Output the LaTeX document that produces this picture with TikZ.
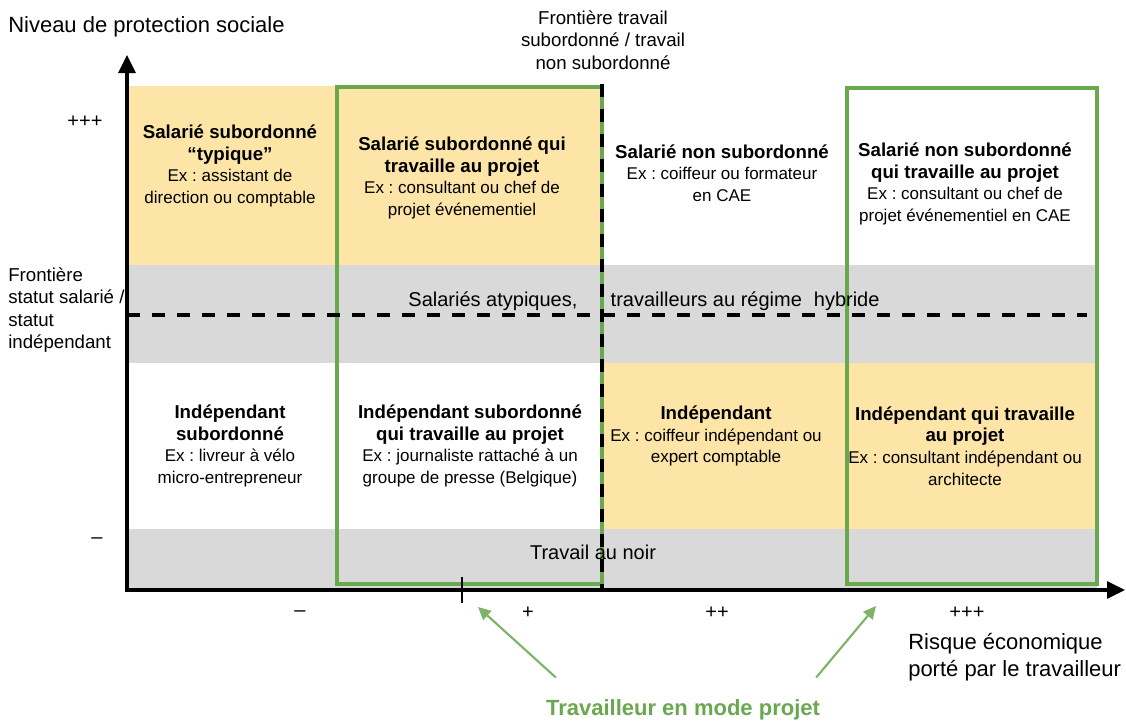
\documentclass[tikz,border=0pt]{standalone}
\usepackage{fontspec}
\setmainfont{Liberation Sans}
\usetikzlibrary{arrows.meta, positioning}
\usepackage{xcolor}
\definecolor{cellyellow}{HTML}{FCE5A6}
\definecolor{bandgray}{HTML}{D9D9D9}
\definecolor{projgreen}{HTML}{6AA84F}
\definecolor{arrowgreen}{HTML}{7DB466}
\newcommand{\ttl}[1]{{\fontsize{14}{17.7}\selectfont\bfseries #1}}
\frenchspacing

\begin{document}
\begin{tikzpicture}[x=0.75pt, y=-0.75pt,
  every node/.style={inner sep=0pt, align=center, font=\fontsize{12.75}{16.3}\selectfont},
  axislabel/.style={align=left, font=\fontsize{16.5}{20.2}\selectfont},
  frontier/.style={font=\fontsize{14}{16.8}\selectfont},
  bandtext/.style={font=\fontsize{15}{18}\selectfont},
  scalemark/.style={font=\fontsize{15}{18}\selectfont},
  projbox/.style={draw=projgreen, line width=2.6pt},
  frontierline/.style={line width=2.9pt, dash pattern=on 9.75pt off 9pt},
  axis/.style={line width=2.4pt, {Triangle[length=13.5pt, width=12.75pt]}-{Triangle[length=13.5pt, width=12.75pt]}},
  pointer/.style={draw=arrowgreen, line width=1.6pt, -{Triangle[length=9.5pt, width=9pt]}}]

  \useasboundingbox (0,0) rectangle (1126,725);

  % Coloured cells and grey bands
  \fill[cellyellow] (127,86) rectangle (602,265);
  \fill[bandgray] (127,265) rectangle (1097,363);
  \fill[cellyellow] (602,363) rectangle (1097,529);
  \fill[bandgray] (127,529) rectangle (1097,589);

  % Project boxes
  \draw[projbox] (337,87) rectangle (602,584);
  \draw[projbox] (847,88) rectangle (1097,584);

  % Frontiers
  \draw[frontierline] (127,315) -- (1087,315);
  \draw[frontierline] (602,84) -- (602,589);

  % Axes
  \coordinate (origin) at (127,590);
  \coordinate (ytop) at (127,55);
  \coordinate (xend) at (1125,590);
  \draw[axis] (ytop) |- (xend);
  \draw[line width=1.5pt] (462,577) -- (462,603);

  % Axis labels
  \node (niveau) [axislabel, anchor=west] at (8,27) {Niveau de protection sociale};
  \node (yplus) [scalemark] at (85,122) {+++};
  \node (ymoins) [scalemark] at (97,541) {–};
  \node (frontstatut) [frontier, align=left, anchor=west] at (8,310) {Frontière\\statut salarié /\\statut\\indépendant};
  \node (fronttrav) [frontier] at (603,40) {Frontière travail\\subordonné / travail\\non subordonné};
  \node (xmoins) [scalemark] at (300,614) {–};
  \node (xplus) [scalemark] at (528,613) {+};
  \node (xplusplus) [scalemark] at (717,613) {++};
  \node (xplusplusplus) [scalemark] at (967,613) {+++};
  \node (risque) [axislabel, anchor=west] at (908,657) {Risque économique\\porté par le travailleur};

  % Top row
  \node (salsub) at (230,166) {\ttl{Salarié subordonné}\\\ttl{“typique”}\\Ex : assistant de\\direction ou comptable};
  \node (salsubproj) at (462,178) {\ttl{Salarié subordonné qui}\\\ttl{travaille au projet}\\Ex : consultant ou chef de\\projet événementiel};
  \node (salnonsub) at (722,173) {\ttl{Salarié non subordonné}\\Ex : coiffeur ou formateur\\en CAE};
  \node (salnonsubproj) at (965,184) {\ttl{Salarié non subordonné}\\\ttl{qui travaille au projet}\\Ex : consultant ou chef de\\projet événementiel en CAE};

  % Bands
  \node (atypiques) [bandtext] at (644,301) {Salariés atypiques,\hspace{25pt}travailleurs au régime\hspace{9pt}hybride};
  \node (noir) [bandtext] at (593,552) {Travail au noir};

  % Bottom row
  \node (indsub) at (230,446) {\ttl{Indépendant}\\\ttl{subordonné}\\Ex : livreur à vélo\\micro-entrepreneur};
  \node (indsubproj) at (470,446) {\ttl{Indépendant subordonné}\\\ttl{qui travaille au projet}\\Ex : journaliste rattaché à un\\groupe de presse (Belgique)};
  \node (ind) at (716,436) {\ttl{Indépendant}\\Ex : coiffeur indépendant ou\\expert comptable};
  \node (indproj) at (965,446) {\ttl{Indépendant qui travaille}\\\ttl{au projet}\\Ex : consultant indépendant ou\\architecte};

  % Project mode label and arrows
  \node (modelabel) [font=\fontsize{16.5}{20}\selectfont\bfseries, text=projgreen] at (683,710) {Travailleur en mode projet};
  \coordinate (headL) at (478,607);
  \coordinate (headR) at (876,606);
  \draw[pointer] ([shift={(10,-22)}]modelabel.north west) -- (headL);
  \draw[pointer] ([shift={(-4,-22)}]modelabel.north east) -- (headR);

\end{tikzpicture}
\end{document}
